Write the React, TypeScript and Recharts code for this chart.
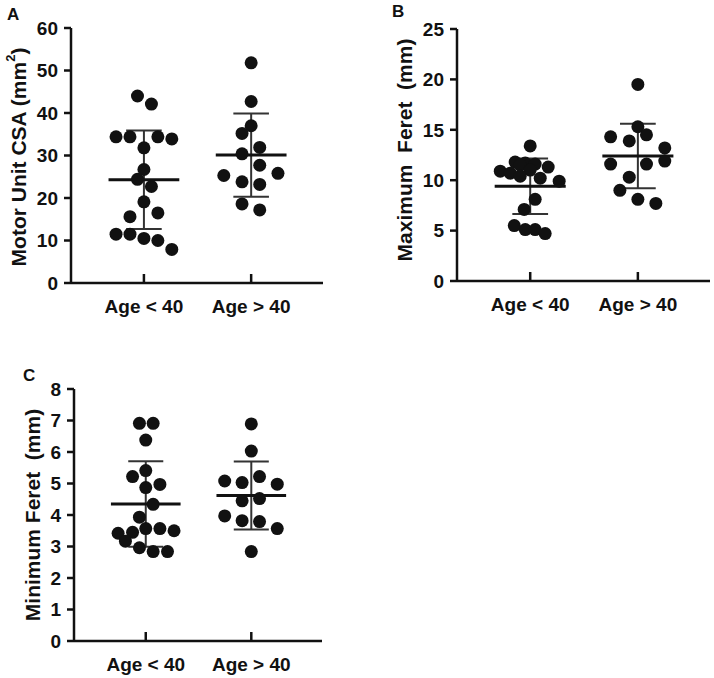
import React from 'react'
import { ScatterChart, Scatter, XAxis, YAxis, ReferenceLine, Label } from 'recharts'

const groups = ['Age < 40', 'Age > 40']

// A: motor unit CSA (mm²)
const csaYoung = [44, 42.1, 34.4, 34.4, 34.4, 33.9, 31.8, 26.7, 24.4, 22.7, 19.1, 16.5, 15.6, 11.5, 11.5, 10.5, 10, 7.9]
const csaYoungJitter = [-0.06, 0.07, -0.26, -0.13, 0.13, 0.26, 0, 0, -0.06, 0.07, 0, 0.13, -0.13, -0.26, -0.13, 0, 0.13, 0.26]
const csaOld = [51.8, 42.7, 37, 35.2, 31.9, 30.4, 27.7, 25.8, 25.3, 23.8, 23.2, 18.6, 17.2]
const csaOldJitter = [0, 0, 0, -0.085, 0.08, -0.085, 0.08, 0.25, -0.255, -0.085, 0.08, -0.085, 0.08]
const csaMean = [24.3, 30.1]
const csaSd = [11.6, 9.8]
const csaTicks = [0, 10, 20, 30, 40, 50, 60]

// B: maximum feret (mm)
const maxYoung = [13.4, 11.8, 11.7, 11.6, 11.5, 11.3, 11.0, 10.9, 10.7, 10.4, 10.2, 9.9, 8.1, 7.1, 5.5, 5.1, 5.1, 4.7]
const maxYoungJitter = [0, -0.14, -0.046, 0.046, -0.093, 0.167, 0, -0.278, -0.185, -0.093, 0.093, 0.269, 0.046, -0.056, -0.148, -0.046, 0.046, 0.139]
const maxOld = [19.5, 15.3, 14.5, 14.3, 13.9, 13.2, 11.9, 11.6, 11.6, 10.3, 9.0, 8.1, 7.7]
const maxOldJitter = [0, 0, 0.08, -0.253, -0.08, 0.25, 0.25, -0.253, 0.08, -0.08, -0.167, 0, 0.167]
const maxMean = [9.4, 12.4]
const maxSd = [2.75, 3.2]
const maxTicks = [0, 5, 10, 15, 20, 25]

// C: minimum feret (mm)
const minYoung = [6.91, 6.91, 6.38, 5.41, 5.22, 4.97, 4.87, 4.34, 3.93, 3.57, 3.57, 3.5, 3.45, 3.42, 3.17, 2.96, 2.84, 2.84]
const minYoungJitter = [-0.06, 0.07, 0, 0, -0.125, 0.134, 0, 0.07, -0.06, 0, 0.134, 0.268, -0.125, -0.262, -0.193, -0.06, 0.07, 0.206]
const minOld = [6.89, 6.03, 5.22, 5.08, 5.03, 4.98, 4.52, 4.45, 3.97, 3.82, 3.79, 3.57, 2.84]
const minOldJitter = [0, 0, 0.078, -0.252, -0.087, 0.246, 0.078, -0.087, -0.252, -0.087, 0.078, 0.246, 0]
const minMean = [4.35, 4.62]
const minSd = [1.36, 1.08]
const minTicks = [0, 1, 2, 3, 4, 5, 6, 7, 8]

const FONT = '"Liberation Sans", Arial, Helvetica, sans-serif'
const INK = '#111'

const toPoints = (vals: number[], jitter: number[], g: number) =>
  vals.map((v, i) => ({ x: g + 1 + jitter[i], y: v }))

const Dot = (props: any) => <circle cx={props.cx} cy={props.cy} r={6.5} fill={INK} />

const CategoryTick = (props: any) => {
  const { x, y, payload } = props
  return (
    <g>
      <line x1={x} y1={y} x2={x} y2={y - 9} stroke={INK} strokeWidth={2.5} />
      <text x={x} y={y + 29.5} textAnchor="middle" fontFamily={FONT} fontWeight="bold" fontSize={19} fill={INK}>
        {groups[Math.round(payload.value) - 1]}
      </text>
    </g>
  )
}

interface PanelProps {
  left: number
  top: number
  width: number
  height: number
  marginTop: number
  marginRight: number
  yAxisWidth: number
  xAxisHeight: number
  labelX: number
  labelY: number
  yTitle: React.ReactNode
  young: number[]
  youngJitter: number[]
  old: number[]
  oldJitter: number[]
  mean: number[]
  sd: number[]
  ticks: number[]
}

function Panel(p: PanelProps) {
  const ymax = p.ticks[p.ticks.length - 1]
  return (
    <div style={{ position: 'absolute', left: p.left, top: p.top }}>
      <ScatterChart width={p.width} height={p.height} margin={{ top: p.marginTop, right: p.marginRight, bottom: 0, left: 0 }}>
        <XAxis
          type="number"
          dataKey="x"
          domain={[0.32, 2.67]}
          ticks={[1, 2]}
          allowDataOverflow
          height={p.xAxisHeight}
          axisLine={{ stroke: INK, strokeWidth: 2.5 }}
          tickLine={false}
          tickSize={0}
          tickMargin={0}
          tick={<CategoryTick />}
        />
        <YAxis
          type="number"
          dataKey="y"
          domain={[0, ymax]}
          ticks={p.ticks}
          allowDataOverflow
          width={p.yAxisWidth}
          axisLine={{ stroke: INK, strokeWidth: 2.5 }}
          tickLine={{ stroke: INK, strokeWidth: 2.5 }}
          tickSize={7}
          tickMargin={6}
          tick={{ fill: INK, fontSize: 19, fontWeight: 'bold', fontFamily: FONT }}
        >
          <Label
            content={() => (
              <text
                x={p.labelX}
                y={p.labelY}
                transform={`rotate(-90 ${p.labelX} ${p.labelY})`}
                textAnchor="middle"
                dominantBaseline="central"
                fontFamily={FONT}
                fontWeight="bold"
                fontSize={21}
                fill={INK}
                xmlSpace="preserve"
                style={{ whiteSpace: 'pre' }}
              >
                {p.yTitle}
              </text>
            )}
          />
        </YAxis>
        <Scatter data={toPoints(p.young, p.youngJitter, 0)} shape={Dot} isAnimationActive={false} />
        <Scatter data={toPoints(p.old, p.oldJitter, 1)} shape={Dot} isAnimationActive={false} />
        {p.mean.map((m, g) => {
          const cx = g + 1
          const hi = m + p.sd[g]
          const lo = m - p.sd[g]
          return (
            <React.Fragment key={g}>
              <ReferenceLine segment={[{ x: cx, y: lo }, { x: cx, y: hi }]} stroke="#333" strokeWidth={2} ifOverflow="visible" />
              <ReferenceLine segment={[{ x: cx - 0.166, y: hi }, { x: cx + 0.166, y: hi }]} stroke="#333" strokeWidth={2} ifOverflow="visible" />
              <ReferenceLine segment={[{ x: cx - 0.166, y: lo }, { x: cx + 0.166, y: lo }]} stroke="#333" strokeWidth={2} ifOverflow="visible" />
              <ReferenceLine segment={[{ x: cx - 0.33, y: m }, { x: cx + 0.33, y: m }]} stroke={INK} strokeWidth={3} ifOverflow="visible" />
            </React.Fragment>
          )
        })}
      </ScatterChart>
    </div>
  )
}

export default function App() {
  return (
    <div style={{ position: 'absolute', left: 0, top: 0, width: 714, height: 678, background: '#fff', overflow: 'hidden' }}>
      <Panel
        left={0} top={0} width={340} height={330}
        marginTop={28} marginRight={17} yAxisWidth={71} xAxisHeight={47}
        labelX={17.5} labelY={157}
        yTitle={<>
          <tspan>Motor Unit CSA (mm</tspan>
          <tspan dy={-8} fontSize={13}>2</tspan>
          <tspan dy={8}>)</tspan>
        </>}
        young={csaYoung} youngJitter={csaYoungJitter}
        old={csaOld} oldJitter={csaOldJitter}
        mean={csaMean} sd={csaSd} ticks={csaTicks}
      />
      <Panel
        left={360} top={0} width={354} height={330}
        marginTop={29} marginRight={4} yAxisWidth={97} xAxisHeight={49}
        labelX={44} labelY={150}
        yTitle="Maximum  Feret  (mm)"
        young={maxYoung} youngJitter={maxYoungJitter}
        old={maxOld} oldJitter={maxOldJitter}
        mean={maxMean} sd={maxSd} ticks={maxTicks}
      />
      <Panel
        left={0} top={330} width={340} height={348}
        marginTop={59} marginRight={18} yAxisWidth={74} xAxisHeight={37}
        labelX={32} labelY={185}
        yTitle="Minimum Feret  (mm)"
        young={minYoung} youngJitter={minYoungJitter}
        old={minOld} oldJitter={minOldJitter}
        mean={minMean} sd={minSd} ticks={minTicks}
      />
      <svg width={714} height={678} style={{ position: 'absolute', left: 0, top: 0, pointerEvents: 'none' }}>
        <g fontFamily={FONT} fontWeight="bold" fontSize={17} fill={INK}>
          <text x={7} y={19.5}>A</text>
          <text x={392} y={17}>B</text>
          <text x={23} y={381}>C</text>
        </g>
      </svg>
    </div>
  )
}
